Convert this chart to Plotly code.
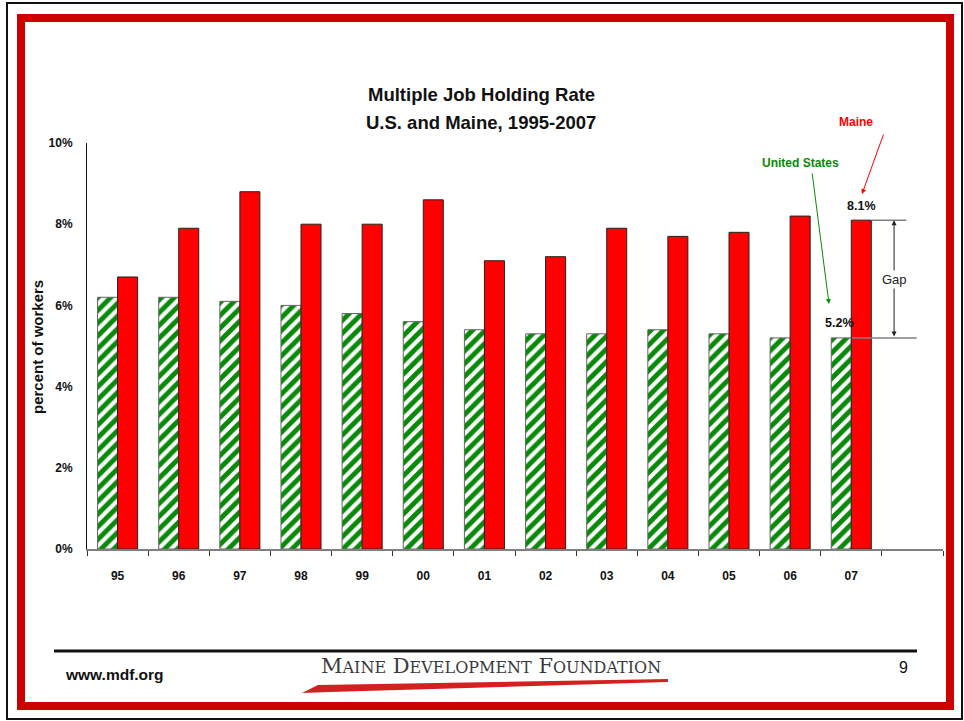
import plotly.graph_objects as go

# ---------------- data ----------------
years = ["95", "96", "97", "98", "99", "00", "01", "02", "03", "04", "05", "06", "07"]
us_rate = [6.2, 6.2, 6.1, 6.0, 5.8, 5.6, 5.4, 5.3, 5.3, 5.4, 5.3, 5.2, 5.2]
maine_rate = [6.7, 7.9, 8.8, 8.0, 8.0, 8.6, 7.1, 7.2, 7.9, 7.7, 7.8, 8.2, 8.1]
y_ticks = [0, 2, 4, 6, 8, 10]
y_tick_labels = ["0%", "2%", "4%", "6%", "8%", "10%"]

W, H = 964, 721
FONT = "Arial, Liberation Sans, Helvetica, sans-serif"
RED = "#CC0000"
GREEN = "#078a07"

def px(x):
    return x / W

def py(y):
    return 1 - y / H

xpos = list(range(len(years)))
n_slots = len(years) + 1  # one empty slot at the right

fig = go.Figure()
fig.add_trace(go.Bar(
    x=xpos, y=us_rate, name="United States",
    marker=dict(color="white",
                line=dict(color="#666666", width=1),
                pattern=dict(shape="/", fgcolor=GREEN, bgcolor="white",
                             size=9, solidity=0.55, fgopacity=1)),
    hoverinfo="y",
))
fig.add_trace(go.Bar(
    x=xpos, y=maine_rate, name="Maine",
    marker=dict(color="#FF0000", line=dict(color="#222222", width=1)),
    hoverinfo="y",
))

last = len(years) - 1
shapes = []
annotations = []

def ann(**kw):
    kw.setdefault("xanchor", "center")
    kw.setdefault("yanchor", "middle")
    annotations.append(kw)

# Gap markers at the last year
shapes.append(dict(type="line", xref="x", yref="y", x0=last + 0.34, x1=last + 0.9,
                   y0=maine_rate[last], y1=maine_rate[last],
                   line=dict(color="#808080", width=1.5)))
shapes.append(dict(type="line", xref="x", yref="y", x0=last + 0.01, x1=last + 1.07,
                   y0=us_rate[last], y1=us_rate[last],
                   line=dict(color="#808080", width=1.5)))
ann(xref="x", yref="y", axref="x", ayref="y",
    x=last + 0.70, y=maine_rate[last], ax=last + 0.70, ay=us_rate[last],
    text="", showarrow=True, arrowhead=2, startarrowhead=2,
    arrowside="end+start", arrowsize=1, arrowwidth=1, arrowcolor="#222222")
ann(xref="x", yref="y", x=last + 0.70, y=(maine_rate[last] + us_rate[last]) / 2,
    text="Gap", showarrow=False, bgcolor="white",
    font=dict(family=FONT, size=13, color="#222222"))
# value labels
ann(xref="x", yref="y", x=last + 0.17, y=maine_rate[last],
    text=f"{maine_rate[last]}%", showarrow=False, yshift=14,
    font=dict(family=FONT, size=12.5, color="#111111", weight="bold"))
ann(xref="x", yref="y", x=last - 0.2, y=us_rate[last],
    text=f"{us_rate[last]}%", showarrow=False, yshift=15,
    font=dict(family=FONT, size=12.5, color="#111111", weight="bold"))

# series callouts
ann(xref="paper", yref="paper", x=px(856), y=py(122), text="Maine", showarrow=False,
    font=dict(family=FONT, size=12, color="#FF0000", weight="bold"))
ann(xref="paper", yref="paper", axref="pixel", ayref="pixel",
    x=px(862), y=py(194), ax=884 - 862, ay=133 - 194,
    text="", showarrow=True, arrowhead=2, arrowsize=1, arrowwidth=1,
    arrowcolor="#FF0000")
ann(xref="paper", yref="paper", x=px(800), y=py(163), text="United States",
    showarrow=False, font=dict(family=FONT, size=12, color=GREEN, weight="bold"))
ann(xref="paper", yref="paper", axref="pixel", ayref="pixel",
    x=px(829), y=py(304), ax=812 - 829, ay=172 - 304,
    text="", showarrow=True, arrowhead=2, arrowsize=1, arrowwidth=1,
    arrowcolor=GREEN)

# title (two lines)
ann(xref="paper", yref="paper", x=px(481), y=py(95),
    text="Multiple Job Holding Rate", showarrow=False,
    font=dict(family=FONT, size=18.5, color="#111111", weight="bold"))
ann(xref="paper", yref="paper", x=px(481), y=py(122),
    text="U.S. and Maine, 1995-2007", showarrow=False,
    font=dict(family=FONT, size=18.5, color="#111111", weight="bold"))
# y-axis title
ann(xref="paper", yref="paper", x=px(37), y=py(347),
    text="percent of workers", textangle=-90, showarrow=False,
    font=dict(family=FONT, size=15, color="#111111", weight="bold"))

# footer
shapes.append(dict(type="line", xref="paper", yref="paper",
                   x0=px(54), x1=px(917), y0=py(651), y1=py(651),
                   line=dict(color="#111111", width=3)))
ann(xref="paper", yref="paper", x=px(114), y=py(674), text="www.mdf.org",
    showarrow=False, font=dict(family=FONT, size=15.5, color="#111111", weight="bold"))
ann(xref="paper", yref="paper", x=px(903), y=py(667), text="9", showarrow=False,
    font=dict(family=FONT, size=16, color="#111111"))
sm = "font-size:16px"
logo = (f"M<span style='{sm}'>AINE</span> D<span style='{sm}'>EVELOPMENT</span> "
        f"F<span style='{sm}'>OUNDATION</span>")
ann(xref="paper", yref="paper", x=px(491), y=py(666), text=logo, showarrow=False,
    font=dict(family="DejaVu Serif, Liberation Serif, serif", size=21, color="#3a3a3a"))

def P(x, y):
    return f"{px(x)},{py(y)}"

swoosh = (f"M {P(302,693)} L {P(318,685)} L {P(668,679)} L {P(668,682)} "
          f"L {P(330,692)} Z")
shapes.append(dict(type="path", xref="paper", yref="paper", path=swoosh,
                   fillcolor="#d42020", line=dict(width=0)))

# frames
shapes.append(dict(type="rect", xref="paper", yref="paper",
                   x0=px(7), x1=px(962), y0=py(3), y1=py(719),
                   line=dict(color="#111111", width=2)))
shapes.append(dict(type="rect", xref="paper", yref="paper",
                   x0=px(21), x1=px(950), y0=py(18), y1=py(706),
                   line=dict(color=RED, width=8)))

fig.update_layout(
    width=W, height=H,
    margin=dict(l=0, r=0, t=0, b=0),
    paper_bgcolor="white", plot_bgcolor="white",
    barmode="group", bargap=0.345, bargroupgap=0,
    showlegend=False,
    shapes=shapes, annotations=annotations,
    font=dict(family=FONT, color="#111111"),
    xaxis=dict(
        domain=[px(87), px(943)],
        range=[-0.5, n_slots - 0.5],
        tickmode="array", tickvals=xpos, ticktext=years,
        ticks="", showgrid=False, zeroline=False,
        showline=True, linecolor="#808080", linewidth=1.5,
        tickfont=dict(family=FONT, size=12, color="#111111", weight="bold"),
        ticklabelstandoff=15,
        minor=dict(tickmode="array",
                   tickvals=[i - 0.5 for i in range(n_slots + 1)],
                   ticks="outside", ticklen=5, tickcolor="#333333",
                   tickwidth=1, showgrid=False),
        fixedrange=True, automargin=False,
    ),
    yaxis=dict(
        domain=[py(549), py(143)],
        range=[0, 10],
        tickmode="array", tickvals=y_ticks, ticktext=y_tick_labels,
        ticks="", showgrid=False, zeroline=False,
        showline=True, linecolor="#111111", linewidth=1,
        tickfont=dict(family=FONT, size=12, color="#111111", weight="bold"),
        ticklabelstandoff=11,
        fixedrange=True, automargin=False,
    ),
)

fig.write_html(
    "out.html",
    config={"displayModeBar": False},
    post_script="document.body.style.margin='0';document.body.style.overflow='hidden';",
)
